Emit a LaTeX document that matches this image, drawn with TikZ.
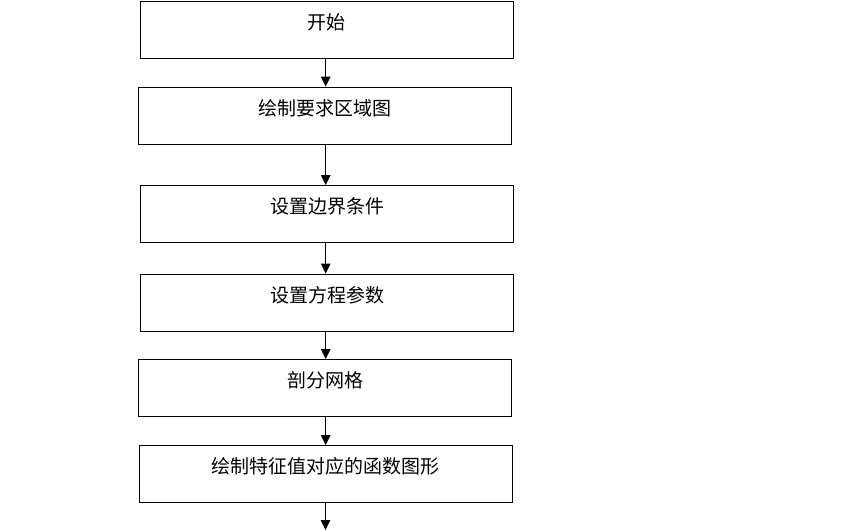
\documentclass[tikz,border=0pt]{standalone}
\usepackage{fontspec}
\newfontfamily\cjk{Noto Sans CJK SC}
\usetikzlibrary{arrows.meta}

\tikzset{stepbox/.style={draw, line width=0.9pt, minimum width=373pt, minimum height=57pt,
    inner sep=0pt, text height=12pt, text depth=13pt, font=\cjk\fontsize{19pt}{22pt}\selectfont},
  flow/.style={line width=1.2pt, -{Triangle[length=10pt, width=9.5pt]}}}

\begin{document}
\begin{tikzpicture}[x=1pt, y=-1pt]
  \useasboundingbox (0,0) rectangle (849,530);
  \node[stepbox] (start) at (326.5, 29.5) {开始};
  \node[stepbox] (region) at (325, 115.5) {绘制要求区域图};
  \node[stepbox] (boundary) at (327, 214) {设置边界条件};
  \node[stepbox] (params) at (327, 302.5) {设置方程参数};
  \node[stepbox] (mesh) at (325, 388) {剖分网格};
  \node[stepbox] (plot) at (325.5, 474) {绘制特征值对应的函数图形};
  \coordinate (next) at (325.5, 530);
  \draw[flow] (start.south -| 325.7,0) -- (region.north -| 325.7,0);
  \draw[flow] (region.south -| 325.7,0) -- (boundary.north -| 325.7,0);
  \draw[flow] (boundary.south -| 325.7,0) -- (params.north -| 325.7,0);
  \draw[flow] (params.south -| 325.7,0) -- (mesh.north -| 325.7,0);
  \draw[flow] (mesh.south -| 325.7,0) -- (plot.north -| 325.7,0);
  \draw[flow] (plot.south -| next) -- (next);
\end{tikzpicture}
\end{document}
